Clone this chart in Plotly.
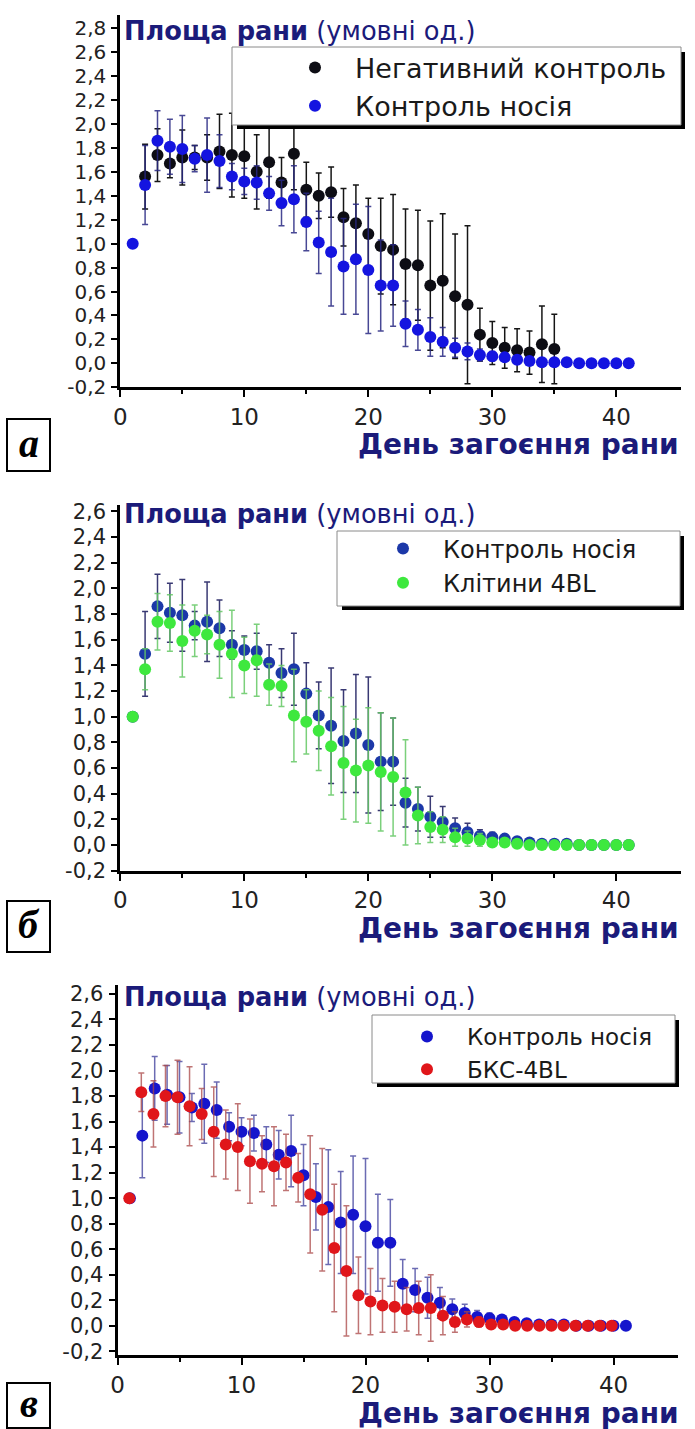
import plotly.graph_objects as go

W, H = 695, 1429

# ---------------- data ----------------
days = list(range(1, 42))
neg_days = list(range(2, 36))

# vehicle control (Контроль носія)
vehicle = [1.00, 1.49, 1.86, 1.81, 1.79, 1.71, 1.74, 1.69, 1.56, 1.52,
           1.51, 1.42, 1.34, 1.37, 1.18, 1.01, 0.93, 0.81, 0.87, 0.78,
           0.65, 0.65, 0.33, 0.28, 0.22, 0.18, 0.13, 0.10, 0.07, 0.06,
           0.05, 0.03, 0.02, 0.01, 0.01, 0.01, 0.00, 0.00, 0.00, 0.00, 0.00]
vehicle_err = [0.00, 0.33, 0.25, 0.23, 0.28, 0.11, 0.31, 0.22, 0.11, 0.11,
               0.14, 0.14, 0.19, 0.28, 0.24, 0.26, 0.45, 0.40, 0.46, 0.53,
               0.38, 0.34, 0.19, 0.17, 0.16, 0.12, 0.08, 0.07, 0.05, 0.04,
               0.03, 0.02, 0.02, 0.01, 0.01, 0.01, 0.01, 0.01, 0.00, 0.00, 0.00]

# negative control (Негативний контроль), days 2..35
negative = [1.56, 1.74, 1.67, 1.72, 1.72, 1.72, 1.77, 1.74, 1.73, 1.60,
            1.68, 1.51, 1.75, 1.45, 1.40, 1.43, 1.22, 1.17, 1.08, 0.98,
            0.95, 0.83, 0.82, 0.65, 0.69, 0.56, 0.49, 0.24, 0.17, 0.13,
            0.11, 0.09, 0.16, 0.12]
negative_err = [0.27, 0.22, 0.12, 0.23, 0.10, 0.19, 0.31, 0.35, 0.35, 0.31,
                0.30, 0.21, 0.30, 0.23, 0.19, 0.21, 0.24, 0.32, 0.30, 0.40,
                0.46, 0.46, 0.46, 0.54, 0.56, 0.52, 0.66, 0.22, 0.18, 0.17,
                0.18, 0.18, 0.32, 0.29]

# 4BL cells (Клітини 4BL)
cells = [1.00, 1.37, 1.74, 1.73, 1.59, 1.67, 1.64, 1.56, 1.49, 1.40,
         1.44, 1.25, 1.24, 1.01, 0.96, 0.89, 0.77, 0.64, 0.58, 0.62,
         0.57, 0.53, 0.41, 0.23, 0.14, 0.12, 0.06, 0.05, 0.04, 0.02,
         0.02, 0.01, 0.00, 0.00, 0.00, 0.00, 0.00, 0.00, 0.00, 0.00, 0.00]
cells_err = [0.00, 0.16, 0.22, 0.22, 0.28, 0.20, 0.15, 0.26, 0.34, 0.22,
             0.28, 0.16, 0.16, 0.36, 0.25, 0.31, 0.38, 0.44, 0.40, 0.45,
             0.46, 0.46, 0.41, 0.22, 0.12, 0.10, 0.07, 0.06, 0.05, 0.03,
             0.02, 0.02, 0.01, 0.01, 0.01, 0.01, 0.01, 0.01, 0.01, 0.01, 0.01]

# БКС-4BL, plotted at the day positions used in the source figure
bks_days = [0.95, 1.92, 2.90, 3.87, 4.84, 5.81, 6.79, 7.76, 8.73, 9.70,
            10.68, 11.65, 12.62, 13.59, 14.57, 15.54, 16.51, 17.48, 18.46, 19.43,
            20.40, 21.37, 22.35, 23.32, 24.29, 25.26, 26.24, 27.21, 28.18, 29.15,
            30.13, 31.10, 32.07, 33.04, 34.02, 34.99, 35.96, 36.93, 37.91, 38.88, 39.85]
bks = [1.00, 1.83, 1.66, 1.80, 1.79, 1.72, 1.66, 1.52, 1.42, 1.40,
       1.29, 1.27, 1.25, 1.28, 1.16, 1.03, 0.91, 0.61, 0.43, 0.24,
       0.19, 0.16, 0.15, 0.13, 0.14, 0.14, 0.08, 0.03, 0.05, 0.03,
       0.01, 0.01, 0.00, 0.00, 0.00, 0.00, 0.00, 0.00, 0.00, 0.00, 0.00]
bks_err = [0.00, 0.15, 0.26, 0.24, 0.29, 0.31, 0.20, 0.35, 0.27, 0.34,
           0.33, 0.22, 0.31, 0.22, 0.19, 0.46, 0.48, 0.50, 0.51, 0.30,
           0.26, 0.21, 0.20, 0.17, 0.21, 0.26, 0.15, 0.08, 0.06, 0.04,
           0.02, 0.02, 0.01, 0.01, 0.01, 0.01, 0.01, 0.01, 0.01, 0.01, 0.01]

x_ticks = [0, 10, 20, 30, 40]
x_minor = [5, 15, 25, 35]
y_ticks_a = [-0.2, 0.0, 0.2, 0.4, 0.6, 0.8, 1.0, 1.2, 1.4, 1.6, 1.8, 2.0, 2.2, 2.4, 2.6, 2.8]
y_labels_a = ["-0,2", "0,0", "0,2", "0,4", "0,6", "0,8", "1,0", "1,2", "1,4", "1,6",
              "1,8", "2,0", "2,2", "2,4", "2,6", "2,8"]
y_ticks_bc = y_ticks_a[:-1]
y_labels_bc = y_labels_a[:-1]

y_title_rich = "<b>Площа рани</b> (умовні од.)"
x_title = "<b>День загоєння рани</b>"

FONT = "DejaVu Sans"
NAVY = "#1b1b7a"


def px(p):
    return p / W


def py(p):
    return 1 - p / H


fig = go.Figure()


def add_series(x, y, err, name, color, err_color, n, legend, rank):
    sfx = "" if n == 1 else str(n)
    fig.add_trace(go.Scatter(
        x=x, y=y, mode="markers", name=name,
        marker=dict(size=12, color=color, line=dict(width=0)),
        error_y=dict(type="data", array=err, visible=True, color=err_color,
                     thickness=1.5, width=3),
        xaxis="x" + sfx, yaxis="y" + sfx,
        legend=legend, legendrank=rank,
    ))


# panel а
add_series(neg_days, negative, negative_err, "Негативний контроль",
           "#0d0d14", "#151515", 1, "legend", 1)
add_series(days, vehicle, vehicle_err, "Контроль носія",
           "#1414e0", "rgba(40,40,130,0.85)", 1, "legend", 2)
# panel б
add_series(days, vehicle, vehicle_err, "Контроль носія",
           "#1c38a8", "rgba(35,35,100,0.9)", 2, "legend2", 1)
add_series(days, cells, cells_err, "Клітини 4BL",
           "#3ee83e", "rgba(100,200,100,0.85)", 2, "legend2", 2)
# panel в
add_series(days, vehicle, vehicle_err, "Контроль носія",
           "#1515cc", "rgba(70,70,160,0.8)", 3, "legend3", 1)
add_series(bks_days, bks, bks_err, "БКС-4BL",
           "#e0161a", "rgba(170,70,70,0.75)", 3, "legend3", 2)

panels = [
    # (x domain px, y domain px (top, bottom), y range, y ticks, y labels, y tick font)
    ((120.3, 680.8), (15, 387.3), [-0.2, 2.91], y_ticks_a, y_labels_a, 20),
    ((120.3, 680.8), (505, 870.7), [-0.2, 2.65], y_ticks_bc, y_labels_bc, 21),
    ((117.5, 678.0), (985, 1355.2), [-0.23, 2.67], y_ticks_bc, y_labels_bc, 21),
]

layout = dict(
    width=W, height=H,
    margin=dict(l=0, r=0, t=0, b=0, autoexpand=False),
    paper_bgcolor="white", plot_bgcolor="white",
    font=dict(family=FONT, color="#1a1a1a"),
    showlegend=True,
)

for i, (xd, yd, yr, yt, yl, yfs) in enumerate(panels, start=1):
    sfx = "" if i == 1 else str(i)
    layout["xaxis" + sfx] = dict(
        domain=[px(xd[0]), px(xd[1])], range=[0, 45.2], anchor="y" + sfx,
        showline=True, linecolor="black", linewidth=3,
        ticks="outside", ticklen=7, tickwidth=2, tickcolor="black",
        tickmode="array", tickvals=x_ticks,
        minor=dict(tickmode="array", tickvals=x_minor, ticks="outside",
                   ticklen=4, tickwidth=2, tickcolor="black", showgrid=False),
        tickfont=dict(size=23, family=FONT, color="#222"),
        showgrid=False, zeroline=False, fixedrange=True, automargin=False,
    )
    layout["yaxis" + sfx] = dict(
        domain=[py(yd[1]), py(yd[0])], range=yr, anchor="x" + sfx,
        showline=True, linecolor="black", linewidth=3,
        ticks="outside", ticklen=6, tickwidth=2, tickcolor="black",
        tickmode="array", tickvals=yt, ticktext=yl,
        tickfont=dict(size=yfs, family=FONT, color="#222"),
        ticklabelstandoff=1,
        showgrid=False, zeroline=False, fixedrange=True, automargin=False,
    )

legend_common = dict(xanchor="left", yanchor="middle", bgcolor="rgba(0,0,0,0)",
                     borderwidth=0, tracegroupgap=0, itemwidth=70)
layout["legend"] = dict(x=px(275), y=py(87), font=dict(size=27, family=FONT, color="#1a1a1a"),
                        **legend_common)
layout["legend2"] = dict(x=px(363), y=py(566), font=dict(size=24, family=FONT, color="#1a1a1a"),
                         **legend_common)
layout["legend3"] = dict(x=px(387), y=py(1053), font=dict(size=23, family=FONT, color="#1a1a1a"),
                         **legend_common)

shapes = []
annotations = []

# legend frames with drop shadow
for (x0, y0, x1, y1) in [(232, 47, 681, 125), (337, 531, 680, 606), (372, 1015, 675, 1083)]:
    shapes.append(dict(type="rect", xref="paper", yref="paper", layer="above",
                       x0=px(x0 + 5), x1=px(x1 + 4), y0=py(y1 + 4), y1=py(y0 + 5),
                       fillcolor="black", line=dict(width=0)))
    shapes.append(dict(type="rect", xref="paper", yref="paper", layer="above",
                       x0=px(x0), x1=px(x1), y0=py(y1), y1=py(y0),
                       fillcolor="white", line=dict(color="#8a8a8a", width=1)))

# panel letters
for (letter, x0, y0, x1, y1) in [("а", 7, 419, 50, 471), ("б", 7, 901, 50, 952),
                                 ("в", 7, 1383, 50, 1428)]:
    shapes.append(dict(type="rect", xref="paper", yref="paper",
                       x0=px(x0), x1=px(x1), y0=py(y1), y1=py(y0),
                       fillcolor="white", line=dict(color="black", width=2)))
    annotations.append(dict(text="<b><i>%s</i></b>" % letter, xref="paper", yref="paper",
                            x=px((x0 + x1) / 2), y=py((y0 + y1) / 2 - 2),
                            xanchor="center", yanchor="middle", showarrow=False,
                            font=dict(family="Liberation Serif", size=40, color="black")))

# axis titles
for ty, xy in [(31, 445), (514, 928), (997, 1413)]:
    annotations.append(dict(text=y_title_rich, xref="paper", yref="paper",
                            x=px(123), y=py(ty), xanchor="left", yanchor="middle",
                            showarrow=False, borderpad=0,
                            font=dict(family=FONT, size=25.7, color=NAVY)))
    annotations.append(dict(text=x_title, xref="paper", yref="paper",
                            x=px(680), y=py(xy), xanchor="right", yanchor="middle",
                            showarrow=False, borderpad=0,
                            font=dict(family=FONT, size=28, color=NAVY)))

layout["shapes"] = shapes
layout["annotations"] = annotations

fig.update_layout(**layout)
fig.write_html("out.html")
